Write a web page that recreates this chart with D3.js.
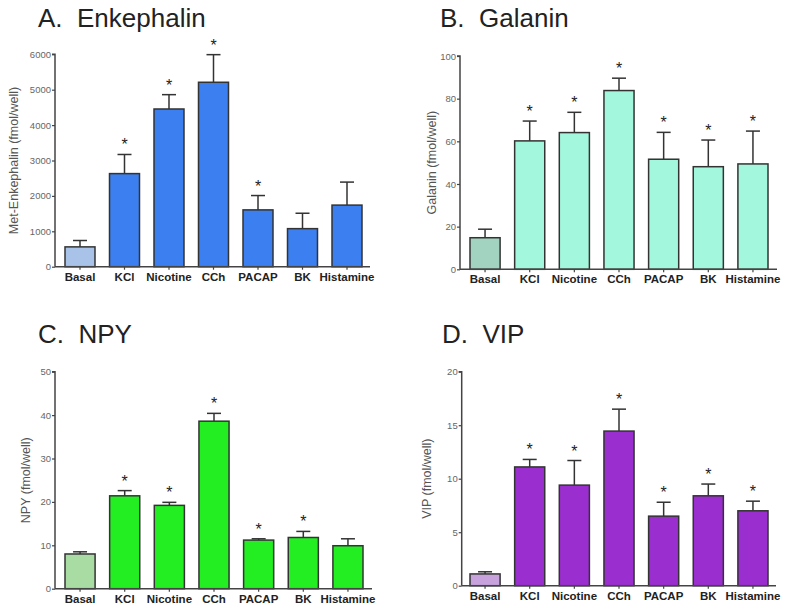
<!DOCTYPE html>
<html>
<head>
<meta charset="utf-8">
<script src="https://cdn.jsdelivr.net/npm/d3@7"></script>
<style>
  html, body { margin: 0; padding: 0; background: #fff; }
  svg { display: block; }
  svg text { font-family: "Liberation Sans", Arial, sans-serif; }
</style>
</head>
<body>
<svg id="chart" width="790" height="612"></svg>
<script>
const categories = ["Basal", "KCl", "Nicotine", "CCh", "PACAP", "BK", "Histamine"];

const enkMeans = [560, 2630, 4455, 5210, 1605, 1075, 1740];
const enkErr   = [180, 540, 405, 780, 405, 435, 650];
const enkSig   = [false, true, true, true, true, false, false];
const enkTicks = [0, 1000, 2000, 3000, 4000, 5000, 6000];

const galMeans = [14.8, 60.2, 64.1, 83.8, 51.6, 48.1, 49.4];
const galErr   = [4.0, 9.3, 9.5, 5.8, 12.6, 12.5, 15.4];
const galSig   = [false, true, true, true, true, true, true];
const galTicks = [0, 20, 40, 60, 80, 100];

const npyMeans = [8.0, 21.4, 19.2, 38.6, 11.2, 11.8, 9.9];
const npyErr   = [0.5, 1.2, 0.7, 1.8, 0.3, 1.4, 1.6];
const npySig   = [false, true, true, true, true, true, false];
const npyTicks = [0, 10, 20, 30, 40, 50];

const vipMeans = [1.1, 11.1, 9.4, 14.45, 6.5, 8.4, 7.0];
const vipErr   = [0.2, 0.7, 2.3, 2.05, 1.3, 1.1, 0.9];
const vipSig   = [false, true, true, true, true, true, true];
const vipTicks = [0, 5, 10, 15, 20];

const panels = [
  { title: "A.  Enkephalin", ylabel: "Met-Enkephalin (fmol/well)", means: enkMeans, err: enkErr, sig: enkSig, ticks: enkTicks,
    color: "#3b7ff0", basal: "#a9c2e8",
    axisX: 55, barL: 65, barR: 362, axisEnd: 370, y0: 266.7, yTop: 54.3, titleX: 38, titleY: 27, labelX: 15 },
  { title: "B.  Galanin", ylabel: "Galanin (fmol/well)", means: galMeans, err: galErr, sig: galSig, ticks: galTicks,
    color: "#a2f7dc", basal: "#a2d3c0",
    axisX: 460, barL: 470, barR: 768, axisEnd: 777, y0: 269.3, yTop: 56, titleX: 440, titleY: 27, labelX: 433 },
  { title: "C.  NPY", ylabel: "NPY (fmol/well)", means: npyMeans, err: npyErr, sig: npySig, ticks: npyTicks,
    color: "#22ee22", basal: "#a8dca2",
    axisX: 55, barL: 65, barR: 363, axisEnd: 372, y0: 588.7, yTop: 371.7, titleX: 38, titleY: 343, labelX: 27 },
  { title: "D.  VIP", ylabel: "VIP (fmol/well)", means: vipMeans, err: vipErr, sig: vipSig, ticks: vipTicks,
    color: "#9b2ecf", basal: "#c7a2dc",
    axisX: 461.7, barL: 470, barR: 768, axisEnd: 776, y0: 585.7, yTop: 371.7, titleX: 442, titleY: 343, labelX: 428 }
];

const FONT = "'Liberation Sans', Arial, sans-serif";
const svg = d3.select("#chart");

panels.forEach(p => {
  const g = svg.append("g");
  const yMax = p.ticks[p.ticks.length - 1];
  const y = d3.scaleLinear().domain([0, yMax]).range([p.y0, p.yTop]);
  const x = d3.scaleBand().domain(categories).range([p.barL, p.barR]).paddingInner(0.326).paddingOuter(0);

  // title
  g.append("text")
    .attr("x", p.titleX).attr("y", p.titleY)
    .attr("font-size", 26).attr("fill", "#222").attr("font-family", FONT)
    .style("white-space", "pre")
    .text(p.title);

  // y label
  g.append("text")
    .attr("transform", `translate(${p.labelX},${(p.y0 + p.yTop) / 2}) rotate(-90)`)
    .attr("text-anchor", "middle").attr("dominant-baseline", "middle")
    .attr("font-size", 12.5).attr("fill", "#555").attr("font-family", FONT)
    .text(p.ylabel);

  // bars
  const bars = g.append("g");
  categories.forEach((c, i) => {
    const cx = x(c) + x.bandwidth() / 2;
    const top = y(p.means[i]);
    const et = y(p.means[i] + p.err[i]);
    bars.append("line").attr("x1", cx).attr("x2", cx).attr("y1", top).attr("y2", et)
      .attr("stroke", "#333").attr("stroke-width", 1.5);
    bars.append("line").attr("x1", cx - 7).attr("x2", cx + 7).attr("y1", et).attr("y2", et)
      .attr("stroke", "#333").attr("stroke-width", 1.5);
    bars.append("rect")
      .attr("x", x(c)).attr("y", top)
      .attr("width", x.bandwidth()).attr("height", p.y0 - top)
      .attr("fill", i === 0 ? p.basal : p.color)
      .attr("stroke", "#333").attr("stroke-width", 1.5);
    if (p.sig[i]) {
      bars.append("text").attr("x", cx).attr("y", et - 4)
        .attr("text-anchor", "middle").attr("font-size", 16).attr("fill", "#222").attr("font-family", FONT)
        .text("*");
    }
  });

  // y axis
  const yAxis = d3.axisLeft(y).tickValues(p.ticks).tickSize(3).tickPadding(1).tickFormat(d3.format("d"));
  const ya = g.append("g").attr("transform", `translate(${p.axisX},0)`).call(yAxis);
  ya.attr("font-family", FONT);
  ya.select(".domain").attr("stroke", "#444").attr("stroke-width", 1.5).attr("d", `M-3,${p.yTop}H0V${p.y0}`);
  ya.selectAll(".tick line").attr("stroke", "#444").attr("stroke-width", 1.2);
  ya.selectAll(".tick text").attr("font-size", 9.5).attr("fill", "#666");

  // x axis
  const xAxis = d3.axisBottom(x).tickSize(3).tickPadding(3);
  const xa = g.append("g").attr("transform", `translate(0,${p.y0})`).call(xAxis);
  xa.attr("font-family", FONT);
  xa.select(".domain").attr("stroke", "#444").attr("stroke-width", 1.5).attr("d", `M${p.axisX},0H${p.axisEnd}`);
  xa.selectAll(".tick line").attr("stroke", "#444").attr("stroke-width", 1.2);
  xa.selectAll(".tick text").attr("font-size", 11.5).attr("font-weight", "bold").attr("fill", "#222");
});
</script>
</body>
</html>
